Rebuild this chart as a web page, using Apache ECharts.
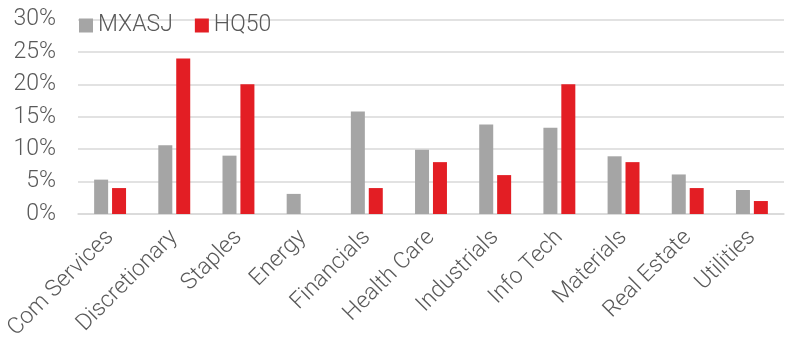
<!DOCTYPE html>
<html>
<head>
<meta charset="utf-8">
<script src="https://cdn.jsdelivr.net/npm/echarts@6/dist/echarts.min.js"></script>
<style>
  html, body { margin: 0; padding: 0; background: #fff; }
  #main { width: 800px; height: 352px; }
</style>
</head>
<body>
<div id="main"></div>
<script>
const categories = ['Com Services', 'Discretionary', 'Staples', 'Energy', 'Financials',
  'Health Care', 'Industrials', 'Info Tech', 'Materials', 'Real Estate', 'Utilities'];
const mxasj = [5.3, 10.6, 9.0, 3.1, 15.8, 9.9, 13.8, 13.3, 8.9, 6.1, 3.7];
const hq50 = [4, 24, 20, 0, 4, 8, 6, 20, 8, 4, 2];
const yTicks = [0, 5, 10, 15, 20, 25, 30];

const textColor = '#595959';
const font = 'Roboto';

const chart = echarts.init(document.getElementById('main'));
chart.setOption({
  animation: false,
  textStyle: { fontFamily: font },
  legend: {
    left: 74,
    top: 9,
    itemWidth: 14,
    itemHeight: 14,
    itemGap: 22,
    icon: 'rect',
    textStyle: { fontSize: 23, color: textColor, fontFamily: font, fontWeight: 300 },
    data: ['MXASJ', 'HQ50']
  },
  grid: { left: 78, right: 16, top: 19.5, bottom: 138 },
  xAxis: {
    type: 'category',
    data: categories,
    axisLine: { lineStyle: { color: '#d9d9d9', width: 1.5 } },
    axisTick: { show: false },
    axisLabel: {
      rotate: 45,
      interval: 0,
      margin: 20,
      fontSize: 23,
      color: textColor,
      fontFamily: font,
      fontWeight: 300
    }
  },
  yAxis: {
    type: 'value',
    min: yTicks[0],
    max: yTicks[yTicks.length - 1],
    interval: 5,
    axisLine: { show: false },
    axisTick: { show: false },
    splitLine: { lineStyle: { color: '#d9d9d9', width: 1.5 } },
    axisLabel: {
      margin: 22,
      fontSize: 23,
      color: textColor,
      fontFamily: font,
      fontWeight: 300,
      formatter: v => v + '%'
    }
  },
  series: [
    {
      name: 'MXASJ',
      type: 'bar',
      data: mxasj,
      barWidth: 14,
      barGap: '28%',
      itemStyle: { color: '#a5a5a5' }
    },
    {
      name: 'HQ50',
      type: 'bar',
      data: hq50,
      barWidth: 14,
      itemStyle: { color: '#e31e24' }
    }
  ]
});
</script>
</body>
</html>
